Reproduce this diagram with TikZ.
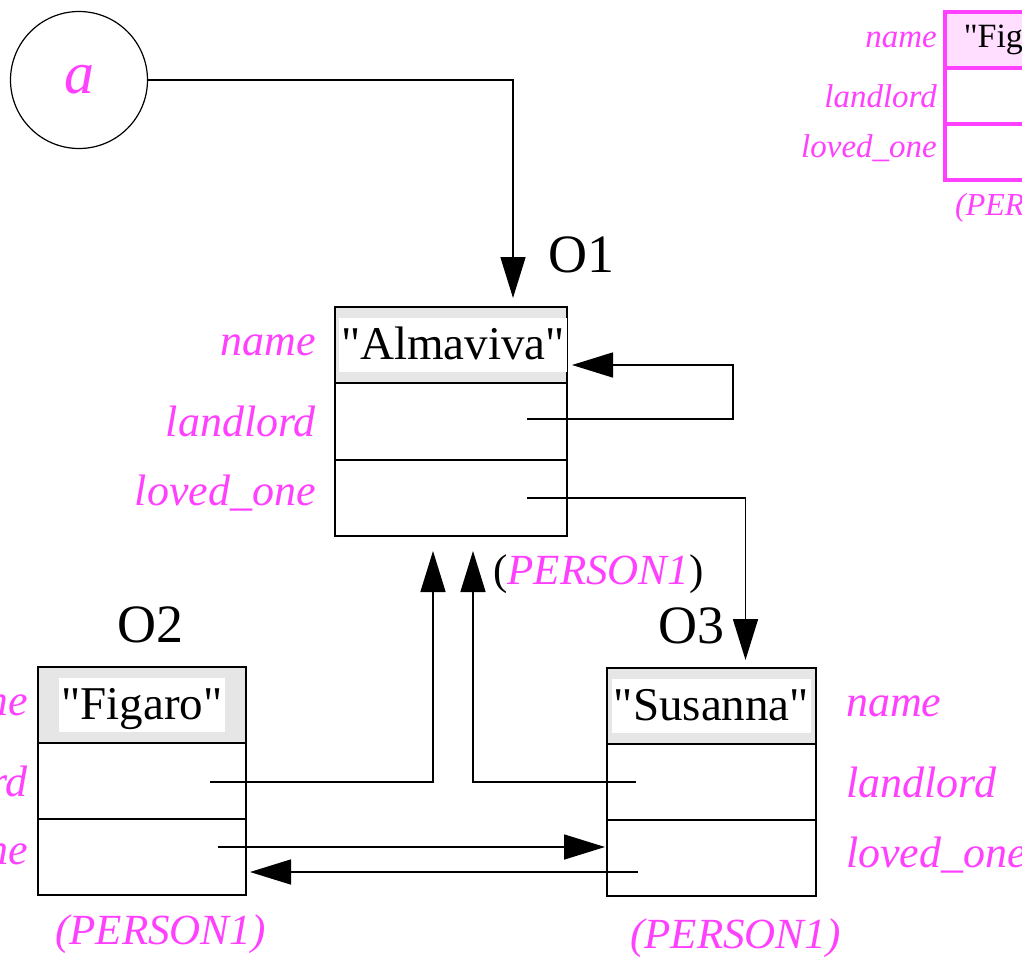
\documentclass[tikz,border=0pt]{standalone}
\usepackage{fontspec}
\setmainfont{Liberation Serif}
\newfontfamily\valfont{Liberation Serif}
\usepackage{xcolor}
\usetikzlibrary{positioning,arrows.meta}
\definecolor{fldpink}{RGB}{255,64,255}
\definecolor{hdrgray}{RGB}{230,230,230}
\definecolor{hdrpink}{RGB}{255,222,255}

\tikzset{
  slot/.style={draw,line width=1.6pt,inner sep=0pt,outer sep=0pt,minimum height=76pt},
  valtext/.style={fill=white,inner xsep=2pt,inner ysep=5pt,text height=36pt,text depth=8pt,font=\valfont\fontsize{47}{50}\selectfont},
  fieldlbl/.style={text=fldpink,inner sep=0pt,font=\fontsize{44}{48}\selectfont\itshape},
  typelbl/.style={text=fldpink,inner sep=0pt,anchor=west,font=\fontsize{43}{48}\selectfont\itshape},
  objlbl/.style={inner sep=0pt,anchor=base west,font=\fontsize{54}{58}\selectfont},
  ptr/.style={line width=1.6pt,-{Triangle[length=41pt,width=25pt]}},
}

\begin{document}
\begin{tikzpicture}[x=1pt,y=-1pt]
  \clip (0,0) rectangle (1022,956);
  % the variable
  \node[draw,circle,line width=1.2pt,minimum size=137pt,inner sep=0pt,text=fldpink,font=\fontsize{60}{60}\selectfont\itshape] (va) at (79,80) {a};

  % O1
  \node[slot,fill=hdrgray,minimum width=232pt,anchor=north west] (o1n) at (335,307) {};
  \node[slot,minimum width=232pt,minimum height=77pt,below=0pt of o1n] (o1l) {};
  \node[slot,minimum width=232pt,below=0pt of o1l] (o1o) {};
  \node[valtext] (o1v) at ([xshift=2pt]o1n) {"Almaviva"};
  \node[fieldlbl,left=19pt of o1n] {name};
  \node[fieldlbl,left=19pt of o1l] {landlord};
  \node[fieldlbl,left=19pt of o1o,yshift=5pt] {loved\_one};
  \node[objlbl] (o1name) at (548,272) {O1};
  \node[typelbl] (o1type) at (493,574) {{\upshape\color{black}(}PERSON1{\upshape\color{black})}};

  % O2
  \node[slot,fill=hdrgray,minimum width=208pt,anchor=north west] (o2n) at (38,667) {};
  \node[slot,minimum width=208pt,below=0pt of o2n] (o2l) {};
  \node[slot,minimum width=208pt,below=0pt of o2l] (o2o) {};
  \node[valtext] (o2v) at (o2n) {"Figaro"};
  \node[fieldlbl,left=10pt of o2n] {name};
  \node[fieldlbl,left=10pt of o2l] {landlord};
  \node[fieldlbl,left=10pt of o2o,yshift=5pt] {loved\_one};
  \node[objlbl] (o2name) at (117,642) {O2};
  \node[typelbl] (o2type) at (55,934) {(PERSON1)};

  % O3
  \node[slot,fill=hdrgray,minimum width=209pt,anchor=north west] (o3n) at (607,668) {};
  \node[slot,minimum width=209pt,below=0pt of o3n] (o3l) {};
  \node[slot,minimum width=209pt,below=0pt of o3l] (o3o) {};
  \node[valtext] (o3v) at (o3n) {"Susanna"};
  \node[fieldlbl,right=30pt of o3n] {name};
  \node[fieldlbl,right=30pt of o3l] {landlord};
  \node[fieldlbl,right=30pt of o3o,yshift=3pt] {loved\_one};
  \node[objlbl] (o3name) at (658,643) {O3};
  \node[typelbl] (o3type) at (630,938) {(PERSON1)};

  % copy, top right
  \node[slot,draw=fldpink,line width=3.5pt,fill=hdrpink,minimum width=154pt,minimum height=56pt,anchor=north west] (c2n) at (945,12) {};
  \node[slot,draw=fldpink,line width=3.5pt,minimum width=154pt,minimum height=56pt,below=0pt of c2n] (c2l) {};
  \node[slot,draw=fldpink,line width=3.5pt,minimum width=154pt,minimum height=56pt,below=0pt of c2l] (c2o) {};
  \node[font=\valfont\fontsize{34}{36}\selectfont,inner sep=0pt] (c2v) at (c2n) {"Figaro"};
  \node[fieldlbl,font=\fontsize{33}{36}\selectfont\itshape,left=8pt of c2n] {name};
  \node[fieldlbl,font=\fontsize{33}{36}\selectfont\itshape,left=8pt of c2l] {landlord};
  \node[fieldlbl,font=\fontsize{33}{36}\selectfont\itshape,left=8pt of c2o,yshift=4pt] {loved\_one};
  \node[typelbl,font=\fontsize{32}{36}\selectfont\itshape] (c2type) at (955,208) {(PERSON1)};

  % pointers
  \coordinate (o1lp) at (527,419);
  \coordinate (o1op) at (527,498);
  \coordinate (o2lp) at (210,782);
  \coordinate (o2op) at (218,847);
  \coordinate (o3lp) at (636,782);
  \coordinate (o3op) at (638,872);
  \draw[ptr] (va.east) -| ([xshift=62pt,yshift=9pt]o1n.north);
  \draw[ptr] (o1lp) -- ([xshift=206pt]o1lp) |- ([xshift=5pt,yshift=-20pt]o1n.east);
  \draw[ptr] (o1op) -| ([xshift=34pt,yshift=8pt]o3n.north);
  \draw[ptr] (o2lp) -| ([xshift=-18pt,yshift=-15pt]o1o.south);
  \draw[ptr] (o3lp) -| ([xshift=22pt,yshift=-15pt]o1o.south);
  \draw[ptr] (o2op) -- ([xshift=-2pt]o2op -| o3o.west);
  \draw[ptr] (o3op) -- ([xshift=4pt]o3op -| o2o.east);
\end{tikzpicture}
\end{document}
